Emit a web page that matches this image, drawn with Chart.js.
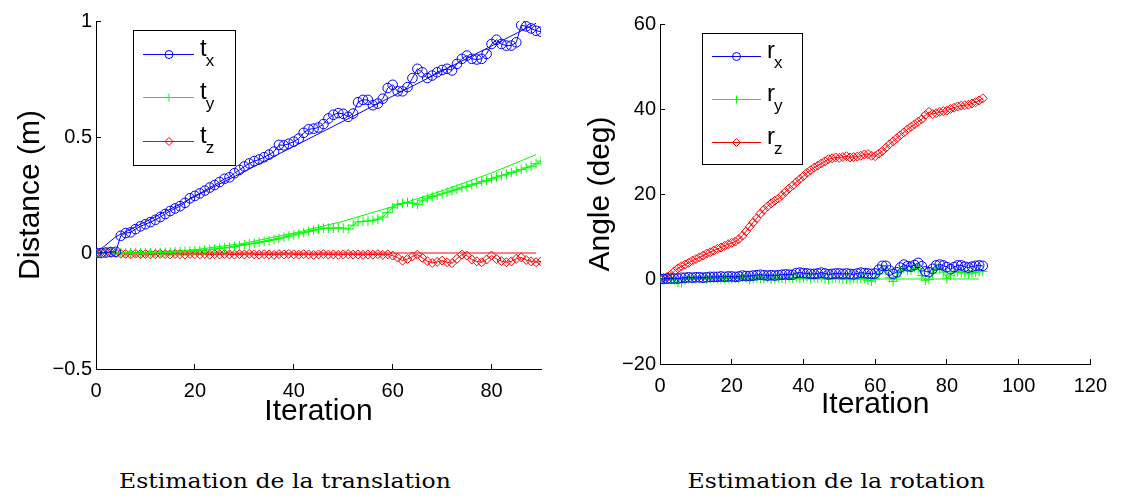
<!DOCTYPE html>
<html>
<head>
<meta charset="utf-8">
<title>Estimation de la translation / rotation</title>
<script src="https://cdn.jsdelivr.net/npm/chart.js@4.4.0/dist/chart.umd.min.js"></script>
<style>
  html, body { margin: 0; padding: 0; background: #fff; }
  body { width: 1122px; height: 498px; position: relative; overflow: hidden; }
  canvas { position: absolute; top: 0; }
  #transCanvas { left: 0; }
  #rotCanvas { left: 560px; }
  .caption {
    position: absolute; top: 470px;
    font-family: "DejaVu Serif", serif; font-size: 20px; line-height: 22px;
    white-space: nowrap; color: #000; transform-origin: center center;
  }
</style>
</head>
<body>
<canvas id="transCanvas" width="560" height="440"></canvas>
<canvas id="rotCanvas" width="562" height="440"></canvas>
<div class="caption" id="capTrans">Estimation de la translation</div>
<div class="caption" id="capRot">Estimation de la rotation</div>

<script>
// iteration number (x axis of both plots)
const iterations = [0,1,2,3,4,5,6,7,8,9,10,11,12,13,14,15,16,17,18,19,20,21,22,23,24,25,26,27,28,29,
  30,31,32,33,34,35,36,37,38,39,40,41,42,43,44,45,46,47,48,49,50,51,52,53,54,55,56,57,58,59,
  60,61,62,63,64,65,66,67,68,69,70,71,72,73,74,75,76,77,78,79,80,81,82,83,84,85,86,87,88,89,90];

// translation estimate (m)
const tx = [0,0,0.002,0.004,0.005,0.074,0.086,0.089,0.103,0.115,
  0.124,0.133,0.143,0.155,0.168,0.181,0.192,0.202,0.216,0.236,
  0.246,0.257,0.269,0.282,0.293,0.306,0.32,0.326,0.344,0.358,
  0.373,0.386,0.396,0.403,0.413,0.424,0.437,0.466,0.464,0.471,
  0.48,0.493,0.518,0.533,0.536,0.541,0.556,0.58,0.596,0.603,
  0.6,0.587,0.601,0.65,0.66,0.66,0.637,0.644,0.665,0.711,
  0.725,0.697,0.697,0.715,0.754,0.794,0.779,0.754,0.765,0.779,
  0.789,0.794,0.787,0.815,0.837,0.851,0.837,0.834,0.837,0.858,
  0.901,0.919,0.901,0.894,0.894,0.908,0.982,0.977,0.968,0.958,0.954];
const ty = [0,0,0,0,0,0,0,0,0,0,
  0,0.001,0.002,0.002,0.003,0.004,0.005,0.006,0.007,0.008,
  0.01,0.011,0.013,0.015,0.017,0.02,0.022,0.025,0.028,0.032,
  0.036,0.039,0.042,0.046,0.05,0.054,0.058,0.063,0.068,0.073,
  0.078,0.083,0.088,0.093,0.098,0.103,0.107,0.107,0.107,0.109,
  0.107,0.104,0.12,0.134,0.136,0.138,0.141,0.146,0.155,0.174,
  0.195,0.21,0.214,0.218,0.215,0.21,0.225,0.236,0.243,0.249,
  0.255,0.262,0.268,0.275,0.281,0.287,0.294,0.3,0.307,0.313,
  0.32,0.327,0.333,0.34,0.347,0.353,0.36,0.367,0.374,0.385,0.396];
const tz = [0,0.002,0.003,0.003,0.001,-0.003,-0.004,-0.006,-0.003,-0.005,
  -0.004,-0.006,-0.005,-0.003,-0.005,-0.006,-0.004,-0.005,-0.007,-0.004,
  -0.005,-0.006,-0.004,-0.007,-0.005,-0.006,-0.004,-0.006,-0.007,-0.005,
  -0.006,-0.004,-0.006,-0.007,-0.005,-0.006,-0.008,-0.005,-0.006,-0.004,
  -0.006,-0.007,-0.005,-0.006,-0.008,-0.006,-0.005,-0.007,-0.006,-0.008,
  -0.006,-0.005,-0.007,-0.006,-0.008,-0.006,-0.007,-0.005,-0.008,-0.006,
  -0.011,-0.02,-0.033,-0.026,-0.015,-0.007,-0.021,-0.035,-0.043,-0.038,
  -0.033,-0.04,-0.044,-0.025,-0.007,-0.011,-0.028,-0.036,-0.04,-0.028,
  -0.011,-0.026,-0.035,-0.04,-0.036,-0.025,-0.019,-0.03,-0.036,-0.04,-0.036];

// translation ground truth (m)
const txTrueX = [0, 4, 89];
const txTrue = [0, 0.07, 0.99];
const tyTrueX = [0, 10, 20, 30, 40, 50, 60, 70, 80, 89];
const tyTrue = [0, 0.002, 0.014, 0.042, 0.086, 0.137, 0.2, 0.268, 0.345, 0.424];
const tzTrueX = [0, 89];
const tzTrue = [0, 0];

// rotation estimate (deg)
const rx = [0,0,0.1,0.1,0.1,0.1,0.3,0.3,0.4,0.3,
  0.4,0.4,0.3,0.4,0.5,0.5,0.5,0.6,0.5,0.6,
  0.6,0.5,0.6,0.8,0.7,0.7,0.8,0.9,1.0,0.9,
  0.8,0.9,0.8,0.9,1.0,1.1,1.0,1.0,1.4,1.5,
  1.4,1.3,1.2,1.2,1.3,1.5,1.3,1.1,1.2,1.3,
  1.3,1.2,1.3,1.2,1.1,1.3,1.5,1.4,1.3,1.2,
  1.3,2.2,3.1,3.1,2.0,1.2,1.6,2.7,3.4,3.0,
  2.9,3.3,3.8,3.0,1.8,1.6,2.4,3.2,3.4,3.2,
  2.8,2.3,2.8,3.2,3.2,2.9,2.7,2.9,3.1,3.2,3.1];
const ry = [0,0,0,0,-0.2,-0.8,-0.9,-0.2,0,0.1,
  0,0.1,0.2,0,0.1,0.2,0.1,0,0.2,0.1,
  0.1,0.3,0.2,0.4,0.3,-0.1,0.1,0.3,0.2,0.1,
  0.3,0,0.1,0.3,0.2,0,0.3,0.2,0.4,0.1,
  0.3,0.5,0.2,0.3,0.2,0.4,0.1,-0.1,0.2,0.3,
  0.1,-0.1,0,-0.2,0.1,0,0.2,0.1,-0.3,-0.5,
  0,1.2,2.3,2.0,0.3,-0.6,0.5,1.9,2.5,2.0,
  2.1,2.7,2.4,0.8,-0.3,-0.1,1.4,2.5,2.3,1.6,
  0.2,0.9,1.6,1.7,1.5,1.5,1.2,1.4,1.6,1.7,1.8];
const rz = [0,0.2,0.5,1.0,1.8,2.5,3.0,3.4,3.8,4.3,
  4.7,5.1,5.5,6.0,6.3,6.7,7.1,7.4,7.8,8.2,
  8.5,8.8,9.4,10.2,11.2,12.3,13.3,14.3,15.4,16.3,
  17.1,17.8,18.4,18.9,19.7,20.5,21.3,22.0,22.8,23.5,
  24.2,25.0,25.6,26.2,26.7,27.2,27.7,28.2,28.4,28.6,
  28.5,28.7,28.9,28.6,28.7,28.8,29.0,29.3,29.4,29.0,
  28.9,29.5,30.1,30.9,31.7,32.4,33.1,33.8,34.5,35.2,
  35.8,36.4,37.0,37.6,38.6,39.3,38.8,39.0,39.3,39.5,
  39.6,40.0,40.3,40.6,40.8,40.9,41.0,41.3,41.6,42.0,42.5];

// rotation ground truth (deg)
const ryTrueX = [0, 89];
const ryTrue = [0, 0];

const BLUE = "#0000ff";
const GREEN = "#00ff00";
const RED = "#ff0000";
const SANS = '"Liberation Sans", Arial, sans-serif';

function pts(xs, ys) {
  return xs.map((x, i) => ({ x: x, y: ys[i] }));
}

function drawMarker(ctx, style, x, y, r) {
  ctx.beginPath();
  if (style === "circle") {
    ctx.arc(x, y, r, 0, Math.PI * 2);
  } else if (style === "cross") {
    ctx.moveTo(x - r, y); ctx.lineTo(x + r, y);
    ctx.moveTo(x, y - r); ctx.lineTo(x, y + r);
  } else {
    ctx.moveTo(x, y - r); ctx.lineTo(x + r, y);
    ctx.lineTo(x, y + r); ctx.lineTo(x - r, y); ctx.closePath();
  }
  ctx.stroke();
}

// legend box with subscripted names (t_x, r_y ...), matlab style
const texLegend = {
  id: "texLegend",
  afterDatasetsDraw(chart, args, opts) {
    const ctx = chart.ctx;
    const area = chart.chartArea;
    const bx = Math.round(area.left + opts.dx);
    const by = Math.round(area.top + opts.dy);
    ctx.save();
    ctx.fillStyle = "#fff";
    ctx.fillRect(bx, by, opts.w, opts.h);
    ctx.strokeStyle = "#000";
    ctx.lineWidth = 1;
    ctx.strokeRect(bx + 0.5, by + 0.5, opts.w, opts.h);
    const entries = chart.data.datasets.filter((ds) => ds.legendName);
    entries.forEach((ds, row) => {
      const y = by + opts.rows[row];
      const color = ds.legendColor;
      // sample line
      ctx.fillStyle = color;
      ctx.fillRect(bx + opts.lineX0, Math.floor(y), opts.lineX1 - opts.lineX0, 1);
      ctx.strokeStyle = color;
      ctx.lineWidth = 1;
      drawMarker(ctx, ds.pointStyle, bx + opts.markX, Math.floor(y) + 0.5, 4);
      ctx.fillStyle = "#000";
      ctx.textBaseline = "alphabetic";
      ctx.textAlign = "left";
      ctx.font = "24px " + SANS;
      ctx.fillText(ds.legendName, bx + opts.textX, y + 1);
      const w = ctx.measureText(ds.legendName).width;
      ctx.font = "17px " + SANS;
      ctx.fillText(ds.legendSub, bx + opts.textX + w - 1, y + 11);
    });
    ctx.restore();
  },
};

function estSet(name, sub, data, color, style, r) {
  return {
    legendName: name, legendSub: sub, legendColor: color, data: data,
    borderColor: color, backgroundColor: "rgba(0,0,0,0)",
    borderWidth: 1, pointStyle: style, pointRadius: r,
    pointBorderColor: color, pointBackgroundColor: "rgba(0,0,0,0)",
    pointBorderWidth: 1, tension: 0,
  };
}
function trueSet(data, color) {
  return {
    data: data, borderColor: color, borderWidth: 1,
    pointRadius: 0, tension: 0, fill: false,
  };
}

function axisOpts(cfg) {
  return {
    type: "linear",
    min: cfg.min, max: cfg.max,
    grid: { drawOnChartArea: false, drawTicks: true, tickLength: -5, color: "#000", lineWidth: 1 },
    border: { display: true, color: "#000", width: 1 },
    ticks: {
      stepSize: cfg.step, includeBounds: false, padding: cfg.pad,
      color: "#000", font: { family: SANS, size: 20 },
      callback: (v) => (v < 0 ? "\u2212" + Math.abs(v) : String(v)),
    },
    title: {
      display: true, text: cfg.title, color: "#000",
      font: { family: SANS, size: 30 }, padding: cfg.titlePad,
    },
    afterFit: cfg.fit,
  };
}

function makeChart(id, datasets, cfg) {
  return new Chart(document.getElementById(id), {
    type: "line",
    data: { datasets: datasets },
    options: {
      responsive: false, animation: false, devicePixelRatio: 1,
      layout: { padding: cfg.padding },
      plugins: { legend: { display: false }, tooltip: { enabled: false }, texLegend: cfg.legend },
      scales: { x: cfg.x, y: cfg.y },
    },
    plugins: [texLegend],
  });
}

// translation plot
makeChart("transCanvas", [
  estSet("t", "x", pts(iterations, tx), BLUE, "circle", 4.8),
  estSet("t", "y", pts(iterations, ty), GREEN, "cross", 4.8),
  estSet("t", "z", pts(iterations, tz), RED, "rectRot", 4.5),
  trueSet(pts(txTrueX, txTrue), BLUE),
  trueSet(pts(tyTrueX, tyTrue), GREEN),
  trueSet(pts(tzTrueX, tzTrue), RED),
], {
  padding: { left: 0, top: 19, right: 19, bottom: 0 },
  legend: { dx: 37, dy: 9, w: 102, h: 135, rows: [24.5, 67.5, 111.5], lineX0: 10, lineX1: 61, markX: 36, textX: 67 },
  x: axisOpts({ min: 0, max: 90, step: 20, pad: 15, title: "Iteration",
    titlePad: { top: 0, bottom: 10 }, fit: (s) => { s.height = 71; } }),
  y: axisOpts({ min: -0.5, max: 1, step: 0.5, pad: 9, title: "Distance (m)",
    titlePad: { top: 13, bottom: 0 }, fit: (s) => { s.width = 96; } }),
});

// rotation plot
makeChart("rotCanvas", [
  estSet("r", "x", pts(iterations, rx), BLUE, "circle", 4.8),
  estSet("r", "y", pts(iterations, ry), GREEN, "cross", 4.8),
  estSet("r", "z", pts(iterations, rz), RED, "rectRot", 4.5),
  trueSet(pts(ryTrueX, ryTrue), GREEN),
], {
  padding: { left: 0, top: 24, right: 23, bottom: 0 },
  legend: { dx: 42, dy: 9, w: 100, h: 131, rows: [23.5, 66.5, 109.5], lineX0: 10, lineX1: 59, markX: 34.5, textX: 65 },
  x: axisOpts({ min: 0, max: 120, step: 20, pad: 15, title: "Iteration",
    titlePad: { top: 0, bottom: 17 }, fit: (s) => { s.height = 76; } }),
  y: axisOpts({ min: -20, max: 60, step: 20, pad: 9, title: "Angle (deg)",
    titlePad: { top: 23, bottom: 0 }, fit: (s) => { s.width = 100; } }),
});

// captions: fit to the width seen in the figure
const capTrans = document.getElementById("capTrans");
const capRot = document.getElementById("capRot");
const stretch = 332 / capTrans.offsetWidth;
[[capTrans, 285], [capRot, 836]].forEach(([el, cx]) => {
  el.style.left = (cx - el.offsetWidth / 2) + "px";
  el.style.transform = "scaleX(" + stretch + ")";
});
</script>
</body>
</html>
